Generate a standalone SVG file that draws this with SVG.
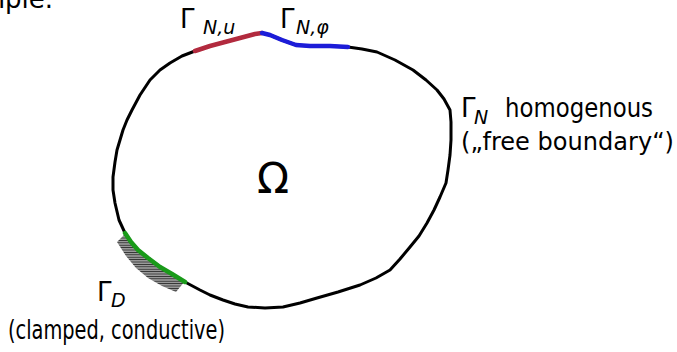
<svg xmlns="http://www.w3.org/2000/svg" width="677" height="352" viewBox="0 0 677 352">
  <defs>
    <pattern id="hatch" patternUnits="userSpaceOnUse" width="6" height="2.4">
      <rect x="0" y="0" width="6" height="1.2" fill="#2a2a2a"/>
      <rect x="0" y="1.2" width="6" height="1.2" fill="#9a9a9a"/>
    </pattern>
    <style>
      text { font-family: "DejaVu Sans", "Liberation Sans", sans-serif; fill: #000; }
      .lbl { font-size: 26px; }
      .sub { font-size: 19px; font-style: italic; }
      .edge { fill: none; stroke-linecap: round; stroke-linejoin: round; }
      .outline { stroke: #000; stroke-width: 3; }
      .seg { stroke-width: 4.5; }
    </style>
  </defs>
  <rect width="677" height="352" fill="#fff"/>

  <text class="lbl" x="53" y="8" text-anchor="end">mple.</text>

  <g id="domain">
    <polygon points="125,234 131,243 140,252 150,260 160,267 172,274 185,281 176,292 162,286 148,278 136,268 126,256 117,242" fill="url(#hatch)"/>
    <path class="edge outline" d="M125,233 L119,220 L115,203 L113,190 L113,177 L115,162 L117,150 L120,140 L123,130 L127,120 L132,110 L140,95 L150,80 L160,70 L170,63 L182,56 L195,51 L210,46 L225,42 L240,38 L255,34 L262,33 L270,35 L282,40 L296,45 L310,46 L330,46 L348,47 L362,49 L377,52 L395,60 L413,70 L426,80 L437,90 L444,99 L450,110 L451,122 L451,140 L450,155 L448,170 L446,183 L440,197 L434,210 L427,223 L419,236 L410,247 L400,259 L390,270 L376,278 L360,285 L338,292 L317,298 L300,303 L283,307 L265,308 L248,307 L235,304 L223,300 L210,295 L200,290 L185,282 L172,274 L160,267 L148,258 L138,250 L131,242 Z"/>
    <text x="257" y="193" style="font-size:42px">Ω</text>
  </g>

  <g id="connectors">
    <path id="gamma-Nu" class="edge seg" stroke="#b22a3e" d="M195,51 L210,46 L225,42 L240,38 L255,34 L262,33"/>
    <path id="gamma-Nphi" class="edge seg" stroke="#1c1cd8" d="M262,33 L270,35 L282,40 L296,45 L310,46 L330,46 L348,47"/>
    <path id="gamma-D" class="edge seg" stroke="#1a9a1a" d="M125,233 L131,242 L138,250 L148,258 L160,267 L172,274 L185,282"/>
  </g>

  <g id="label-Nu">
    <text class="lbl" x="180" y="28">Γ</text>
    <text class="sub" x="203" y="34">N,u</text>
  </g>
  <g id="label-Nphi">
    <text class="lbl" x="280" y="28">Γ</text>
    <text class="sub" x="296" y="34">N,φ</text>
  </g>
  <g id="label-N">
    <text class="lbl" x="461" y="117">Γ</text>
    <text class="sub" x="474" y="124">N</text>
    <text class="lbl" x="505" y="117" textLength="148" lengthAdjust="spacingAndGlyphs">homogenous</text>
    <text x="461" y="150" style="font-size:24px" textLength="213" lengthAdjust="spacingAndGlyphs">(„free boundary“)</text>
  </g>
  <g id="label-D">
    <text class="lbl" x="97" y="301">Γ</text>
    <text class="sub" x="111" y="307">D</text>
    <text class="lbl" x="8" y="339" textLength="217" lengthAdjust="spacingAndGlyphs">(clamped, conductive)</text>
  </g>
</svg>
